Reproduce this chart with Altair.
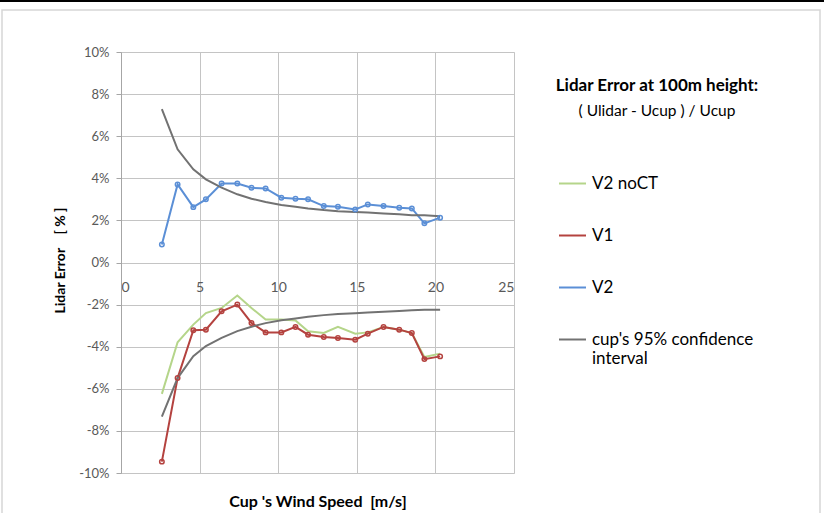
import altair as alt
import pandas as pd

# ---- data ----
speed = [2.6, 3.6, 4.6, 5.4, 6.4, 7.4, 8.3, 9.2, 10.2, 11.1,
         11.9, 12.9, 13.8, 14.9, 15.7, 16.7, 17.7, 18.5, 19.3, 20.3]
v2_noct = [-6.24, -3.79, -2.95, -2.40, -2.16, -1.57, -2.16, -2.71, -2.71, -2.75,
           -3.27, -3.35, -3.06, -3.38, -3.32, -3.06, -3.19, -3.35, -4.49, -4.33]
v1 = [-9.46, -5.49, -3.22, -3.19, -2.32, -2.00, -2.87, -3.32, -3.32, -3.06,
      -3.43, -3.54, -3.59, -3.67, -3.38, -3.06, -3.19, -3.35, -4.59, -4.46]
v2 = [0.86, 3.71, 2.63, 3.00, 3.75, 3.75, 3.55, 3.52, 3.08, 3.03,
      3.00, 2.68, 2.65, 2.52, 2.76, 2.68, 2.60, 2.57, 1.86, 2.13]
ci_upper = [7.29, 5.38, 4.43, 3.95, 3.56, 3.24, 3.03, 2.87, 2.73, 2.65,
            2.57, 2.49, 2.44, 2.40, 2.37, 2.33, 2.29, 2.25, 2.24, 2.20]
ci_lower = [-7.32, -5.49, -4.45, -3.97, -3.58, -3.26, -3.05, -2.88, -2.74, -2.66,
            -2.58, -2.50, -2.45, -2.41, -2.38, -2.34, -2.30, -2.27, -2.25, -2.24]

CI = "cup's 95% confidence interval"
series_names = ["V2 noCT", "V1", "V2", CI]
series_colors = ["#b5d58a", "#b4423f", "#5b8fd6", "#727272"]
series_widths = [2, 2, 2, 3]
y_ticks = list(range(-10, 11))
x_ticks = [0, 5, 10, 15, 20, 25]

rows = []
for i, s in enumerate(speed):
    rows.append({"speed": s, "value": v2_noct[i], "series": "V2 noCT", "part": "main"})
    rows.append({"speed": s, "value": v1[i], "series": "V1", "part": "main"})
    rows.append({"speed": s, "value": v2[i], "series": "V2", "part": "main"})
    rows.append({"speed": s, "value": ci_upper[i], "series": CI, "part": "upper"})
    rows.append({"speed": s, "value": ci_lower[i], "series": CI, "part": "lower"})
df = pd.DataFrame(rows)

FONT = "Lato"
GRID = "#c4c4c4"

x_enc = alt.X(
    "speed:Q",
    scale=alt.Scale(domain=[0, 25], nice=False, zero=False),
    axis=alt.Axis(
        values=x_ticks, offset=-210.5, domain=False, ticks=False,
        grid=True, gridColor=GRID, labelPadding=18, labelFontSize=14,
        labelColor="#595959", labelFont=FONT,
        title="Cup 's Wind Speed\u00a0\u00a0[m/s]", titleFont=FONT, titleFontSize=16,
        titleFontWeight="bold", titleColor="#000000", titleY=244,
        titleBaseline="alphabetic",
    ),
)
y_enc = alt.Y(
    "value:Q",
    scale=alt.Scale(domain=[-10, 10], nice=False, zero=False),
    axis=alt.Axis(
        values=y_ticks,
        labelExpr="datum.value % 2 == 0 ? datum.value + '%' : ''",
        gridOpacity={"condition": {"test": "datum.value % 2 != 0", "value": 0}, "value": 1},
        tickSize={"condition": {"test": "datum.value % 2 != 0", "value": 2}, "value": 5},
        gridColor=GRID, tickColor="#a6a6a6", domainColor="#a6a6a6",
        labelPadding=7, labelFontSize=13, labelColor="#595959", labelFont=FONT,
        title="Lidar Error\u00a0\u00a0\u00a0\u00a0[ % ]", titleFont=FONT, titleFontSize=14,
        titleFontWeight="bold", titleColor="#000000", titleX=-61, titleY=208,
        titleAngle=270, titleAlign="center", titleBaseline="middle",
    ),
)
color_enc = alt.Color(
    "series:N",
    scale=alt.Scale(domain=series_names, range=series_colors),
    legend=alt.Legend(
        title=None, orient="none", legendX=437, legendY=117, direction="vertical",
        symbolType="stroke", symbolSize=729, symbolStrokeWidth=2.5,
        labelFont=FONT, labelFontSize=17, labelColor="#000000", labelOffset=5,
        labelLimit=300, rowPadding=29, padding=0,
        labelExpr="datum.label == \"cup's 95% confidence interval\" ? [\"cup's 95% confidence\", 'interval'] : datum.label",
    ),
)
width_enc = alt.StrokeWidth(
    "series:N", scale=alt.Scale(domain=series_names, range=series_widths), legend=None
)

lines = alt.Chart(df).mark_line().encode(
    x=x_enc, y=y_enc, color=color_enc, strokeWidth=width_enc, detail="part:N",
    order="speed:Q",
)
points = alt.Chart(df).transform_filter(
    alt.FieldOneOfPredicate(field="series", oneOf=["V1", "V2"])
).mark_point(filled=False, size=20, strokeWidth=1.5, opacity=1).encode(
    x="speed:Q", y="value:Q", color=alt.Color("series:N", legend=None)
)

frame = alt.Chart(alt.Data(values=[{}])).mark_rect(
    fillOpacity=0, stroke="#d6d6d6", strokeWidth=1.5
).encode(x=alt.value(-119), x2=alt.value(699), y=alt.value(-42), y2=alt.value(480))
topline = alt.Chart(alt.Data(values=[{}])).mark_rule(
    color="#000000", strokeWidth=2
).encode(x=alt.value(-121), x2=alt.value(703), y=alt.value(-51))

chart = alt.layer(frame, topline, lines, points).properties(
    width=393, height=421,
    autosize=alt.AutoSizeParams(type="none"),
    padding={"left": 121, "top": 52, "right": 310, "bottom": 40},
    title=alt.TitleParams(
        text="Lidar Error at 100m height:",
        subtitle="( Ulidar - Ucup ) / Ucup",
        anchor="start", frame="group", align="center", dx=536, dy=124,
        font=FONT, fontSize=17, fontWeight="bold", color="#000000",
        subtitleFont=FONT, subtitleFontSize=15.5, subtitleColor="#000000",
        subtitlePadding=9,
    ),
).configure_view(stroke=None).configure(background="#ffffff")

chart.save("out.html", embed_options={"renderer": "svg", "actions": False})
